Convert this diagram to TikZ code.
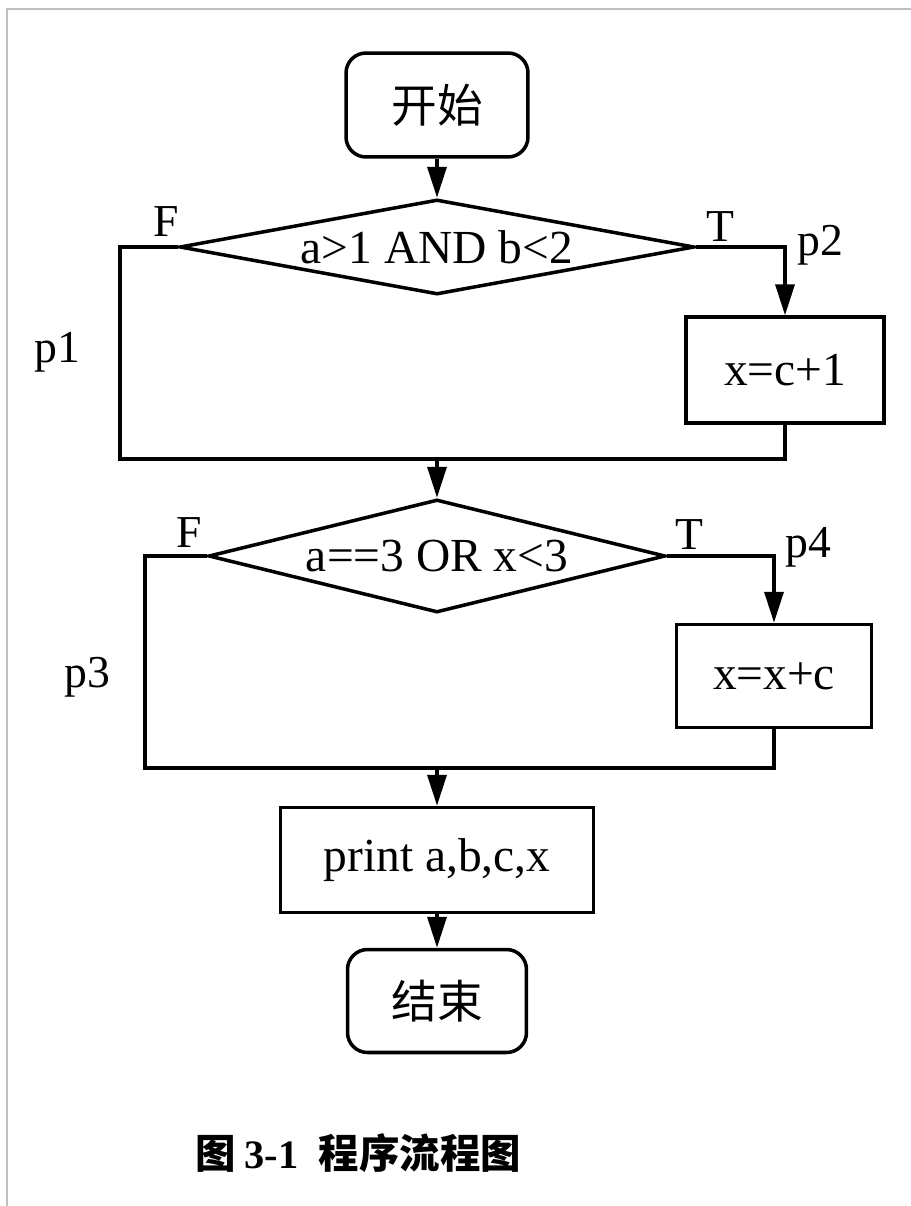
\documentclass[tikz,border=0pt]{standalone}
\usepackage{fontspec}
\setmainfont{Liberation Serif}
\newfontfamily\cjk{Noto Sans CJK SC}
\usetikzlibrary{shapes.geometric,arrows.meta}

\tikzset{
  flow/.style={draw,line width=2pt,inner sep=0pt,font=\fontsize{27}{31}\selectfont},
  term/.style={flow,rectangle,rounded corners=0.4cm,font=\fontsize{26}{30}\selectfont},
  proc/.style={flow,rectangle},
  cond/.style={flow,diamond,aspect=5},
  lbl/.style={font=\fontsize{26}{30}\selectfont},
  arr/.style={-{Triangle[length=0.62cm,width=0.38cm]}}
}

\begin{document}
\begin{tikzpicture}[x=0.02cm,y=-0.02cm,line width=2pt]
        \useasboundingbox (0,0) rectangle (911,1206);
        \draw[black!25,line width=1pt] (7,1206) -- (7,9) -- (911,9);

        \node[term,minimum width=3.64cm,minimum height=2.08cm] (start) at (437,105) {\cjk 开始};
        \node[cond,minimum width=10.3cm,minimum height=1.9cm] (d1) at (437,247) {a>1 AND b<2};
        \node[proc,minimum width=3.96cm,minimum height=2.12cm] (b1) at (785,370) {x=c+1};
        \node[cond,minimum width=9.14cm,minimum height=2.26cm] (d2) at (437,556) {a==3 OR x<3};
        \node[proc,minimum width=3.9cm,minimum height=2.06cm] (b2) at (774,676) {x=x+c};
        \node[proc,minimum width=6.26cm,minimum height=2.1cm] (print) at (437,860) {print a,b,c,x};
        \node[term,minimum width=3.58cm,minimum height=2.06cm] (end) at (437,1001) {\cjk 结束};

        \coordinate (m1) at (437,459);
        \coordinate (m1l) at (120,459);
        \coordinate (m1r) at (785,459);
        \coordinate (m2) at (437,768);
        \coordinate (m2l) at (145,768);
        \coordinate (m2r) at (774,768);

        \draw[arr] (start) -- (d1);
        \draw[arr] (d1.east) -| (b1.north);
        \draw (d1.west) -| (m1l) -- (m1r) -- (b1.south);
        \draw[arr] (m1) -- (d2.north);
        \draw[arr] (d2.east) -| (b2.north);
        \draw (d2.west) -| (m2l) -- (m2r) -- (b2.south);
        \draw[arr] (m2) -- (print.north);
        \draw[arr] (print) -- (end);

        \node[lbl] (f1) at (166,222) {F};
        \node[lbl] (t1) at (720,227) {T};
        \node[lbl] (p2) at (820,245) {p2};
        \node[lbl] (p1) at (57,352) {p1};
        \node[lbl] (f2) at (189,533) {F};
        \node[lbl] (t2) at (689,535) {T};
        \node[lbl] (p4) at (808,547) {p4};
        \node[lbl] (p3) at (87,677) {p3};

        \node[font=\fontsize{23}{27}\selectfont\bfseries] (cap) at (358,1153) {\cjk 图\ \rmfamily 3-1\ \ \cjk 程序流程图};
\end{tikzpicture}
\end{document}
